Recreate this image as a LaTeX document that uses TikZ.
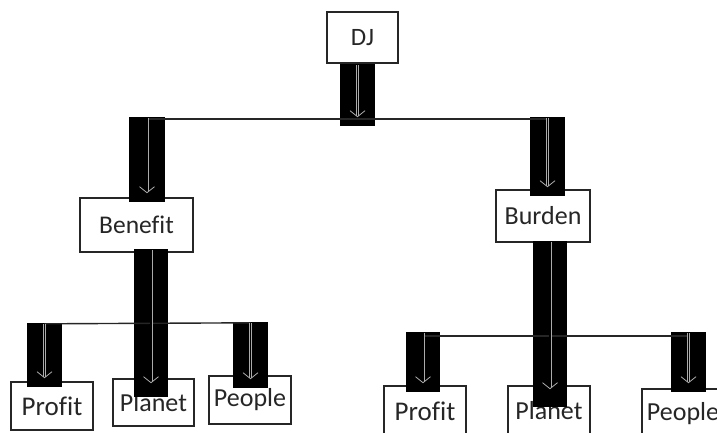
\documentclass[tikz,border=0pt]{standalone}
\usepackage{fontspec}
\setmainfont{Carlito}[Ligatures=NoCommon]
\usetikzlibrary{arrows.meta}
\begin{document}
\begin{tikzpicture}[x=1pt,y=-1pt,
  box/.style={draw=black!85, line width=1.4pt, text=black!85, font=\fontsize{26}{28}\selectfont, inner sep=0pt},
  bar/.style={fill=black, inner sep=0pt},
  link/.style={draw=black!85, line width=1.4pt},
  arr/.style={draw=gray!65, line width=0.8pt, double=black, double distance=1.4pt, -{Straight Barb[length=6pt, width=15pt]}}]
\useasboundingbox (0,0) rectangle (717,432);
\clip (0,0) rectangle (717,432);
% boxes
\node[box, minimum width=71pt, minimum height=51pt, font=\fontsize{25}{27}\selectfont] (dj) at (362.5,37.5) {DJ};
\node[box, minimum width=113pt, minimum height=54pt, font=\fontsize{25.5}{27}\selectfont] (benefit) at (136.5,225) {Benefit};
\node[box, minimum width=94pt, minimum height=52pt] (burden) at (543,216) {Burden};
\node[box, minimum width=82pt, minimum height=48pt, font=\fontsize{27}{29}\selectfont] (profitL) at (52,406) {Profit};
\node[box, minimum width=81pt, minimum height=47pt] (planetL) at (153.5,402.5) {Planet};
\node[box, minimum width=82pt, minimum height=48pt] (peopleL) at (250,400) {People};
\node[box, minimum width=82pt, minimum height=50pt, font=\fontsize{27}{29}\selectfont] (profitR) at (425,411) {Profit};
\node[box, minimum width=82pt, minimum height=50pt] (planetR) at (549,411) {Planet};
\node[box, minimum width=82pt, minimum height=50pt] (peopleR) at (683,414) {People};
% bars
\node[bar, minimum width=35pt, minimum height=62pt] (bdj) at (357.5,95) {};
\node[bar, minimum width=36pt, minimum height=85pt] (bl1) at (147,159.5) {};
\node[bar, minimum width=35pt, minimum height=79pt] (br1) at (547.5,156.5) {};
\node[bar, minimum width=34pt, minimum height=148pt] (bl2) at (151,323) {};
\node[bar, minimum width=35pt, minimum height=64pt] (blp) at (44.5,355) {};
\node[bar, minimum width=35pt, minimum height=66pt] (ble) at (250.5,355) {};
\node[bar, minimum width=34pt, minimum height=166pt] (br2) at (550,324) {};
\node[bar, minimum width=34pt, minimum height=60pt] (brp) at (423,362) {};
\node[bar, minimum width=35pt, minimum height=60pt] (bre) at (688.5,362) {};
% horizontal connectors
\draw[link] ([yshift=-2pt]bl1.north) -- ([yshift=-2pt]br1.north);
\draw[link] ([yshift=-1pt]blp.north) -- ([yshift=-1pt]ble.north);
\draw[link] ([yshift=-4pt]brp.north) -- ([yshift=-4pt]bre.north);
% arrows inside bars
\foreach \b in {bdj,bl1,br1,blp,ble,brp,bre}
  \draw[arr] ([yshift=-1pt]\b.north) -- ([yshift=9pt]\b.south);
\draw[arr] ([yshift=-1pt]bl2.north) -- ([yshift=14pt]bl2.south);
\draw[arr] ([yshift=-1pt]br2.north) -- ([yshift=18pt]br2.south);
\end{tikzpicture}
\end{document}
